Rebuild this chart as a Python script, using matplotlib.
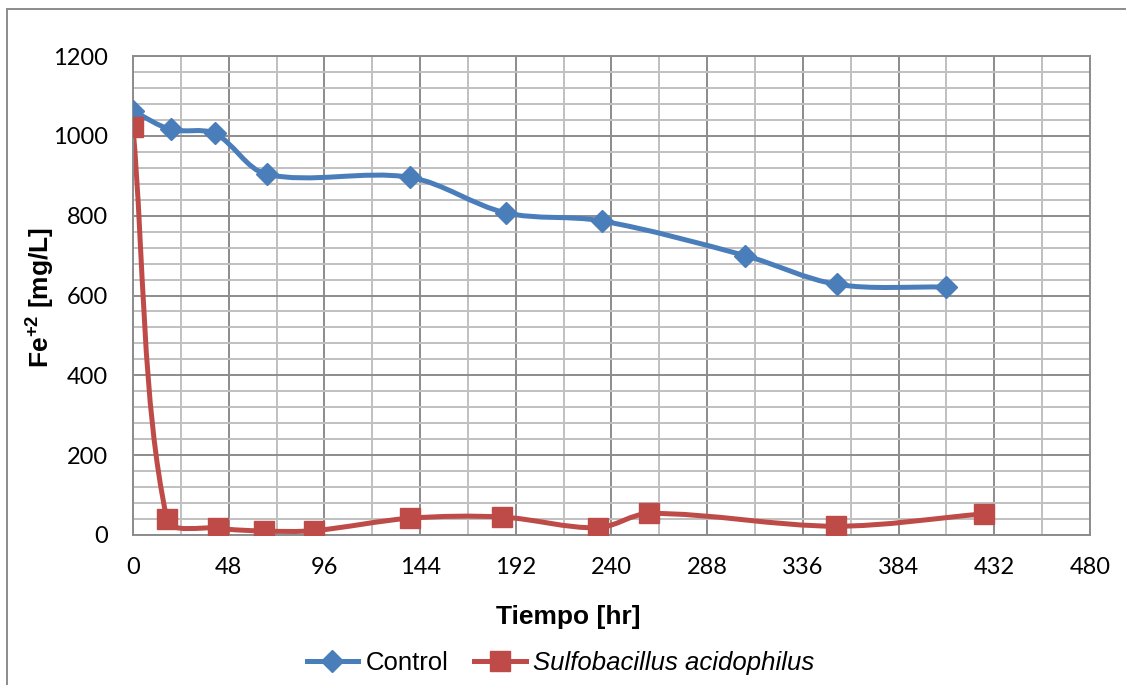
import numpy as np
import matplotlib
matplotlib.use("Agg")
import matplotlib.pyplot as plt
from matplotlib.path import Path
from matplotlib.patches import PathPatch
from matplotlib.lines import Line2D

# Fe(II) concentration over time
tiempo_control = [0, 19, 41, 67, 139, 187, 235, 307, 353, 408]
fe_control = [1062, 1016, 1006, 904, 896, 807, 787, 700, 628, 621]

tiempo_sulfo = [0, 17, 42.5, 65.5, 91, 139, 185, 233, 259, 352.5, 427]
fe_sulfo = [1021, 40, 17, 10, 11, 42, 45, 18, 54, 22, 53]

x_ticks = list(range(0, 481, 48))
y_ticks = list(range(0, 1201, 200))

azul = "#4A7EBB"
rojo = "#BE4B48"

plt.rcParams["mathtext.fontset"] = "custom"
plt.rcParams["mathtext.rm"] = "Liberation Sans:bold"
plt.rcParams["mathtext.default"] = "rm"


def smooth_path(ax, xs, ys):
    """Bezier path through the points, tangents scaled by chord length."""
    pts = ax.transData.transform(np.column_stack([xs, ys]))
    n = len(pts)
    verts = [pts[0]]
    codes = [Path.MOVETO]
    for i in range(n - 1):
        p0 = pts[max(i - 1, 0)]
        p1 = pts[i]
        p2 = pts[i + 1]
        p3 = pts[min(i + 2, n - 1)]
        d01 = np.hypot(*(p1 - p0))
        d12 = np.hypot(*(p2 - p1))
        d23 = np.hypot(*(p3 - p2))
        c1 = p1 + (p2 - p0) * d12 / (d01 + d12) / 3
        c2 = p2 - (p3 - p1) * d12 / (d12 + d23) / 3
        verts += [c1, c2, p2]
        codes += [Path.CURVE4] * 3
    verts = ax.transData.inverted().transform(np.array(verts))
    return Path(verts, codes)


fig = plt.figure(figsize=(11.26, 6.85), dpi=100)
ax = fig.add_axes([0.1181, 0.219, 0.8499, 0.6992])

ax.set_xlim(0, 480)
ax.set_ylim(0, 1200)
ax.set_xticks(x_ticks)
ax.set_yticks(y_ticks)
ax.set_xticks(range(24, 480, 48), minor=True)
ax.set_yticks(range(40, 1200, 40), minor=True)
ax.grid(which="major", color="#8C8C8C", linewidth=1.4)
ax.grid(which="minor", color="#C0C0C0", linewidth=1.4)
ax.set_axisbelow(True)
ax.tick_params(which="both", length=0)
ax.tick_params(axis="x", pad=16, labelsize=17)
ax.tick_params(axis="y", pad=18, labelsize=17)
for lab in ax.get_xticklabels() + ax.get_yticklabels():
    lab.set_fontfamily("Lato")
for sp in ax.spines.values():
    sp.set_color("#8C8C8C")
    sp.set_linewidth(1.4)

lw = 3.6
for xs, ys, col in [(tiempo_control, fe_control, azul), (tiempo_sulfo, fe_sulfo, rojo)]:
    ax.add_patch(PathPatch(smooth_path(ax, xs, ys), facecolor="none",
                           edgecolor=col, linewidth=lw, capstyle="round",
                           joinstyle="round"))

ax.plot(tiempo_control, fe_control, linestyle="none", marker="D",
        markersize=11, color=azul, zorder=3)
ax.plot(tiempo_sulfo, fe_sulfo, linestyle="none", marker="s",
        markersize=15, color=rojo, zorder=4)

fig.text(0.5044, 0.099, "Tiempo [hr]", fontsize=19, fontweight="bold",
         family="Liberation Sans", ha="center", va="center")
fig.text(0.036, 0.566, r"Fe$^{+2}$ [mg/L]", fontsize=19, fontweight="bold",
         family="Liberation Sans", ha="center", va="center", rotation=90)

handles = [
    Line2D([], [], color=azul, linewidth=lw, marker="D", markersize=11),
    Line2D([], [], color=rojo, linewidth=lw, marker="s", markersize=15),
]
leg = fig.legend(handles, ["Control", "Sulfobacillus acidophilus"],
                 loc="center", bbox_to_anchor=(0.4978, 0.032), ncol=2,
                 frameon=False, handlelength=2.0, handletextpad=0.3,
                 columnspacing=1.0, prop={"family": "Liberation Sans", "size": 18.5})
leg.get_texts()[1].set_style("italic")

# outer chart frame
fig.add_artist(Line2D([7 / 1126, 7 / 1126], [0, 1 - 9 / 685],
                      transform=fig.transFigure, color="#8C8C8C", linewidth=1.4))
fig.add_artist(Line2D([7 / 1126, 1], [1 - 9 / 685, 1 - 9 / 685],
                      transform=fig.transFigure, color="#8C8C8C", linewidth=1.4))

fig.savefig("out.png", dpi=100, facecolor="white")
